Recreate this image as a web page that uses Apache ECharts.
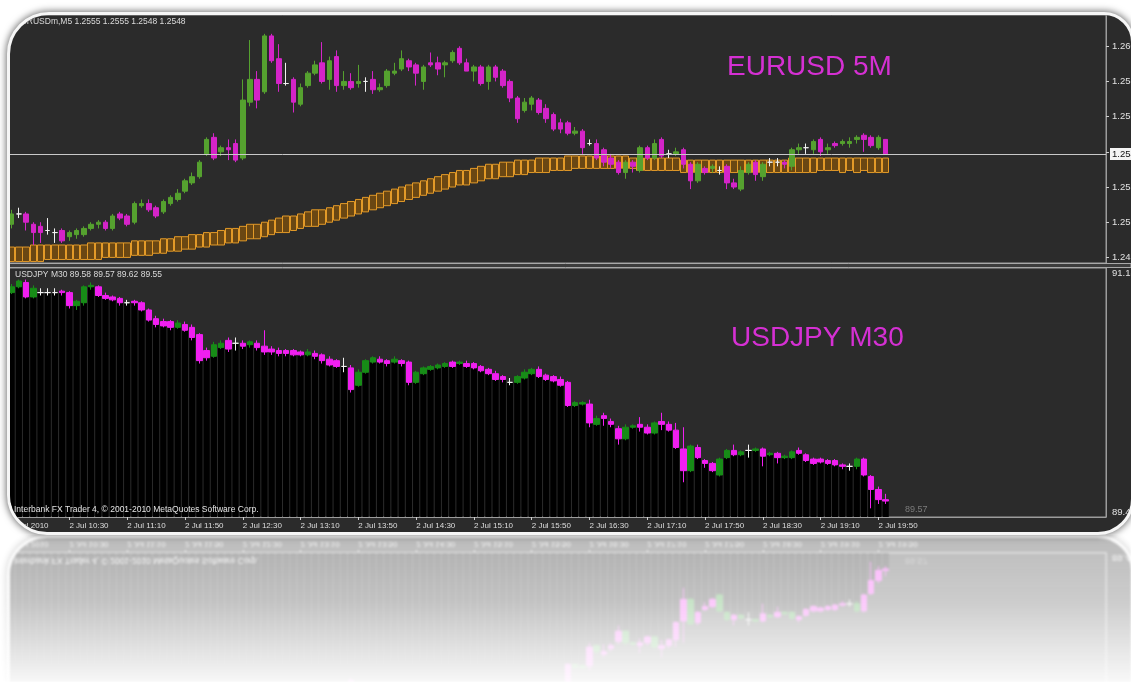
<!DOCTYPE html>
<html><head><meta charset="utf-8">
<script src="https://cdn.jsdelivr.net/npm/echarts@6/dist/echarts.min.js"></script>
<style>
html,body{margin:0;padding:0;background:#fff;width:1131px;height:682px;overflow:hidden;}
.frame{position:absolute;left:7px;top:12px;width:1121px;height:517px;border:3px solid #f6f6f6;border-radius:42px 30px 36px 40px;overflow:hidden;background:#2b2b2b;box-shadow:0 0 7px 1px rgba(0,0,0,0.55);}
.chart{position:absolute;left:-10px;top:-15px;width:1131px;height:545px;}
#refl{position:absolute;left:0;top:535px;width:1131px;height:147px;overflow:hidden;opacity:0.32;filter:blur(1px);
 -webkit-mask-image:linear-gradient(to bottom,rgba(0,0,0,1) 0%,rgba(0,0,0,0.75) 45%,rgba(0,0,0,0.1) 100%);
 mask-image:linear-gradient(to bottom,rgba(0,0,0,1) 0%,rgba(0,0,0,0.75) 45%,rgba(0,0,0,0.1) 100%);}
#flip{position:absolute;left:0;top:-535px;width:1131px;height:545px;transform:scaleY(-1);transform-origin:50% 535px;}
</style></head>
<body>
<div class="frame"><div id="main" class="chart"></div></div>
<div id="refl"><div id="flip"><div class="frame"><div id="mirror" class="chart"></div></div></div></div>
<script>
// ---------------- DATA ----------------
// EURUSD 5M candles: [open, close, low, high]
const eurCandles = [
[1.2514,1.2519,1.2512,1.2521],[1.2519,1.2519,1.2517,1.2522],[1.2519,1.2515,1.2511,1.2520],[1.2514,1.2510,1.2504,1.2515],
[1.2513,1.2510,1.2505,1.2515],[1.2511,1.2511,1.2509,1.2517],[1.2510,1.2510,1.2505,1.2512],[1.2511,1.2506,1.2505,1.2512],
[1.2508,1.2510,1.2506,1.2511],[1.2509,1.2511,1.2507,1.2512],[1.2509,1.2512,1.2508,1.2513],[1.2512,1.2514,1.2511,1.2515],
[1.2514,1.2515,1.2512,1.2516],[1.2515,1.2512,1.2511,1.2516],[1.2512,1.2518,1.2511,1.2519],[1.2519,1.2517,1.2516,1.2520],
[1.2518,1.2514,1.2513,1.2519],[1.2515,1.2524,1.2514,1.2525],[1.2523,1.2524,1.2522,1.2526],[1.2524,1.2521,1.2520,1.2526],
[1.2522,1.2518,1.2517,1.2523],[1.2520,1.2525,1.2519,1.2526],[1.2524,1.2527,1.2523,1.2528],[1.2526,1.2529,1.2525,1.2531],
[1.2530,1.2535,1.2529,1.2536],[1.2534,1.2537,1.2533,1.2539],[1.2537,1.2544,1.2536,1.2545],[1.2548,1.2555,1.2547,1.2556],
[1.2556,1.2546,1.2545,1.2558],[1.2549,1.2551,1.2547,1.2552],[1.2551,1.2550,1.2545,1.2555],[1.2553,1.2545,1.2544,1.2555],
[1.2546,1.2574,1.2545,1.2584],[1.2573,1.2584,1.2571,1.2603],[1.2584,1.2574,1.2570,1.2588],[1.2578,1.2605,1.2577,1.2606],
[1.2605,1.2593,1.2592,1.2606],[1.2594,1.2582,1.2578,1.2601],[1.2582,1.2582,1.2581,1.2592],[1.2584,1.2573,1.2568,1.2585],
[1.2572,1.2580,1.2571,1.2582],[1.2581,1.2587,1.2580,1.2588],[1.2587,1.2591,1.2586,1.2593],[1.2592,1.2583,1.2582,1.2602],
[1.2584,1.2593,1.2579,1.2595],[1.2595,1.2581,1.2578,1.2598],[1.2581,1.2583,1.2579,1.2588],[1.2583,1.2580,1.2579,1.2587],
[1.2582,1.2583,1.2580,1.2591],[1.2583,1.2583,1.2578,1.2585],[1.2584,1.2579,1.2577,1.2588],[1.2579,1.2580,1.2578,1.2582],
[1.2581,1.2588,1.2580,1.2589],[1.2587,1.2588,1.2586,1.2592],[1.2589,1.2594,1.2588,1.2598],[1.2593,1.2590,1.2588,1.2594],
[1.2591,1.2587,1.2581,1.2592],[1.2583,1.2590,1.2579,1.2591],[1.2592,1.2591,1.2590,1.2597],[1.2592,1.2589,1.2586,1.2595],
[1.2591,1.2592,1.2585,1.2593],[1.2593,1.2597,1.2592,1.2598],[1.2599,1.2592,1.2591,1.2600],[1.2592,1.2588,1.2588,1.2594],
[1.2588,1.2590,1.2583,1.2591],[1.2590,1.2582,1.2581,1.2591],[1.2583,1.2590,1.2579,1.2591],[1.2590,1.2585,1.2583,1.2591],
[1.2588,1.2581,1.2580,1.2589],[1.2583,1.2575,1.2573,1.2584],[1.2575,1.2565,1.2563,1.2576],[1.2569,1.2573,1.2568,1.2575],
[1.2572,1.2575,1.2569,1.2576],[1.2574,1.2568,1.2567,1.2575],[1.2570,1.2565,1.2563,1.2572],[1.2567,1.2560,1.2559,1.2568],
[1.2563,1.2560,1.2558,1.2565],[1.2563,1.2558,1.2557,1.2564],[1.2558,1.2559,1.2557,1.2561],[1.2559,1.2551,1.2548,1.2560],
[1.2553,1.2553,1.2552,1.2555],[1.2553,1.2546,1.2545,1.2555],[1.2550,1.2544,1.2542,1.2551],[1.2546,1.2543,1.2541,1.2548],
[1.2544,1.2539,1.2538,1.2545],[1.2539,1.2544,1.2536,1.2545],[1.2544,1.2542,1.2539,1.2545],[1.2540,1.2551,1.2539,1.2552],
[1.2551,1.2546,1.2545,1.2552],[1.2546,1.2553,1.2545,1.2555],[1.2555,1.2547,1.2546,1.2556],[1.2548,1.2548,1.2546,1.2550],
[1.2548,1.2549,1.2547,1.2551],[1.2550,1.2543,1.2541,1.2551],[1.2543,1.2535,1.2531,1.2544],[1.2535,1.2543,1.2534,1.2544],
[1.2541,1.2539,1.2538,1.2542],[1.2541,1.2542,1.2539,1.2543],[1.2540,1.2540,1.2538,1.2542],[1.2542,1.2534,1.2531,1.2543],
[1.2534,1.2532,1.2531,1.2536],[1.2531,1.2540,1.2530,1.2542],[1.2539,1.2543,1.2538,1.2544],[1.2544,1.2538,1.2535,1.2545],
[1.2537,1.2543,1.2535,1.2544],[1.2544,1.2544,1.2542,1.2546],[1.2544,1.2544,1.2542,1.2546],[1.2544,1.2543,1.2541,1.2545],
[1.2542,1.2550,1.2540,1.2551],[1.2550,1.2551,1.2548,1.2553],[1.2551,1.2551,1.2548,1.2553],[1.2550,1.2554,1.2548,1.2555],
[1.2555,1.2549,1.2547,1.2556],[1.2550,1.2551,1.2548,1.2553],[1.2553,1.2552,1.2551,1.2554],[1.2553,1.2554,1.2552,1.2555],
[1.2553,1.2554,1.2551,1.2556],[1.2555,1.2556,1.2553,1.2557],[1.2557,1.2555,1.2549,1.2558],[1.2556,1.2552,1.2551,1.2557],
[1.2551,1.2556,1.2550,1.2557],[1.2555,1.2548,1.2548,1.2555]
];
// Moving-average envelope (lower / upper edge)
const bandLow = [
1.2496,1.2496,1.2496,1.2496,1.2496,1.2497,1.2497,1.2497,1.2497,1.2497,
1.2497,1.2497,1.2497,1.2498,1.2498,1.2498,1.2498,1.2499,1.2499,1.2499,
1.2500,1.2500,1.2501,1.2501,1.2502,1.2502,1.2503,1.2503,1.2504,1.2504,
1.2505,1.2505,1.2506,1.2507,1.2507,1.2508,1.2509,1.2510,1.2510,1.2511,
1.2512,1.2513,1.2513,1.2514,1.2515,1.2516,1.2517,1.2518,1.2519,1.2520,
1.2521,1.2522,1.2523,1.2524,1.2525,1.2526,1.2527,1.2528,1.2529,1.2530,
1.2531,1.2532,1.2533,1.2533,1.2534,1.2535,1.2536,1.2536,1.2537,1.2537,
1.2538,1.2538,1.2539,1.2539,1.2539,1.2540,1.2540,1.2540,1.2541,1.2541,
1.2541,1.2541,1.2541,1.2541,1.2541,1.2541,1.2541,1.2540,1.2540,1.2540,
1.2540,1.2540,1.2540,1.2539,1.2539,1.2539,1.2539,1.2539,1.2539,1.2539,
1.2539,1.2539,1.2539,1.2539,1.2539,1.2539,1.2539,1.2539,1.2539,1.2539,
1.2539,1.2539,1.2540,1.2540,1.2540,1.2539,1.2540,1.2539,1.2540,1.2539,
1.2539,1.2539
];
const bandHigh = [
1.2503,1.2503,1.2503,1.2504,1.2504,1.2504,1.2504,1.2504,1.2504,1.2504,
1.2504,1.2505,1.2505,1.2505,1.2505,1.2505,1.2505,1.2506,1.2506,1.2506,
1.2506,1.2507,1.2507,1.2508,1.2508,1.2509,1.2509,1.2510,1.2510,1.2511,
1.2512,1.2512,1.2513,1.2514,1.2514,1.2515,1.2516,1.2517,1.2518,1.2518,
1.2519,1.2520,1.2521,1.2521,1.2522,1.2523,1.2524,1.2525,1.2526,1.2527,
1.2528,1.2529,1.2530,1.2531,1.2532,1.2533,1.2534,1.2535,1.2536,1.2537,
1.2538,1.2539,1.2540,1.2540,1.2541,1.2542,1.2543,1.2543,1.2544,1.2544,
1.2545,1.2545,1.2545,1.2546,1.2546,1.2546,1.2546,1.2547,1.2547,1.2547,
1.2547,1.2547,1.2547,1.2547,1.2547,1.2547,1.2546,1.2546,1.2546,1.2546,
1.2546,1.2546,1.2546,1.2545,1.2545,1.2545,1.2545,1.2545,1.2545,1.2545,
1.2545,1.2545,1.2545,1.2545,1.2545,1.2545,1.2545,1.2545,1.2546,1.2546,
1.2546,1.2546,1.2546,1.2546,1.2546,1.2546,1.2546,1.2546,1.2546,1.2546,
1.2546,1.2546
];
// USDJPY M30 candles: [open, close, low, high]
const jpyCandles = [
[91.01,91.05,91.00,91.07],[91.05,91.09,91.04,91.10],[91.08,90.98,90.97,91.10],[90.98,91.04,90.97,91.06],
[91.01,91.01,90.99,91.04],[91.01,91.01,90.99,91.04],[91.01,91.01,90.99,91.04],[91.02,91.01,90.99,91.03],
[91.01,90.92,90.90,91.02],[90.92,90.95,90.89,90.96],[90.94,91.05,90.92,91.06],[91.05,91.06,91.03,91.08],
[91.05,90.99,90.98,91.06],[90.99,90.97,90.96,91.01],[90.98,90.96,90.95,90.99],[90.97,90.94,90.92,90.98],
[90.94,90.94,90.92,90.96],[90.95,90.94,90.92,90.96],[90.94,90.89,90.88,90.95],[90.89,90.82,90.81,90.90],
[90.83,90.79,90.77,90.85],[90.81,90.78,90.77,90.83],[90.81,90.77,90.75,90.82],[90.77,90.80,90.76,90.82],
[90.79,90.75,90.74,90.81],[90.77,90.70,90.68,90.79],[90.72,90.54,90.52,90.73],[90.61,90.56,90.54,90.63],
[90.57,90.65,90.56,90.67],[90.63,90.66,90.62,90.68],[90.68,90.62,90.60,90.70],[90.66,90.66,90.61,90.70],
[90.66,90.64,90.62,90.68],[90.65,90.67,90.63,90.68],[90.66,90.63,90.61,90.68],[90.64,90.60,90.58,90.75],
[90.62,90.60,90.58,90.64],[90.61,90.59,90.57,90.63],[90.61,90.59,90.57,90.62],[90.61,90.58,90.57,90.62],
[90.60,90.58,90.57,90.61],[90.58,90.60,90.57,90.62],[90.59,90.57,90.55,90.61],[90.58,90.54,90.52,90.59],
[90.55,90.51,90.50,90.57],[90.54,90.50,90.49,90.55],[90.50,90.50,90.46,90.56],[90.49,90.34,90.32,90.51],
[90.37,90.46,90.36,90.48],[90.46,90.54,90.45,90.55],[90.53,90.56,90.52,90.57],[90.55,90.53,90.52,90.57],
[90.54,90.52,90.50,90.55],[90.53,90.55,90.52,90.57],[90.54,90.52,90.50,90.55],[90.53,90.39,90.37,90.54],
[90.39,90.46,90.38,90.47],[90.45,90.49,90.44,90.50],[90.48,90.50,90.47,90.51],[90.49,90.51,90.48,90.52],
[90.50,90.52,90.49,90.53],[90.53,90.50,90.49,90.54],[90.52,90.53,90.51,90.54],[90.52,90.50,90.49,90.54],
[90.52,90.49,90.48,90.53],[90.50,90.47,90.46,90.51],[90.48,90.45,90.44,90.49],[90.45,90.41,90.40,90.47],
[90.43,90.41,90.39,90.44],[90.39,90.39,90.37,90.42],[90.39,90.43,90.38,90.44],[90.42,90.46,90.41,90.48],
[90.45,90.48,90.44,90.49],[90.48,90.43,90.42,90.50],[90.44,90.41,90.40,90.45],[90.43,90.40,90.39,90.44],
[90.41,90.37,90.36,90.43],[90.39,90.23,90.22,90.40],[90.23,90.25,90.22,90.26],[90.24,90.25,90.23,90.26],
[90.24,90.11,90.08,90.27],[90.10,90.14,90.09,90.16],[90.16,90.14,90.09,90.18],[90.12,90.10,90.08,90.14],
[90.07,90.00,89.96,90.09],[90.00,90.08,89.99,90.10],[90.08,90.09,90.07,90.10],[90.10,90.08,90.05,90.15],
[90.08,90.04,90.03,90.10],[90.04,90.11,90.03,90.12],[90.12,90.10,90.06,90.18],[90.10,90.06,90.05,90.12],
[90.06,89.94,89.93,90.11],[89.93,89.78,89.70,90.08],[89.78,89.95,89.77,89.96],[89.94,89.87,89.86,89.96],
[89.85,89.83,89.80,89.86],[89.83,89.78,89.77,89.84],[89.75,89.86,89.74,89.87],[89.87,89.92,89.86,89.93],
[89.92,89.89,89.88,89.96],[89.89,89.91,89.88,89.92],[89.92,89.92,89.87,89.96],[89.92,89.93,89.91,89.94],
[89.93,89.88,89.81,89.94],[89.89,89.90,89.88,89.91],[89.90,89.87,89.83,89.91],[89.87,89.88,89.86,89.89],
[89.87,89.91,89.86,89.92],[89.92,89.90,89.89,89.94],[89.89,89.85,89.84,89.90],[89.86,89.83,89.82,89.87],
[89.86,89.84,89.83,89.87],[89.85,89.83,89.82,89.86],[89.85,89.82,89.81,89.86],[89.82,89.81,89.79,89.83],
[89.81,89.81,89.78,89.83],[89.81,89.86,89.79,89.87],[89.86,89.75,89.74,89.87],[89.74,89.65,89.52,89.75],
[89.65,89.58,89.55,89.67],[89.58,89.57,89.55,89.62]
];
const xTickLabels = ['2 Jul 2010','2 Jul 10:30','2 Jul 11:10','2 Jul 11:50','2 Jul 12:30','2 Jul 13:10','2 Jul 13:50','2 Jul 14:30',
 '2 Jul 15:10','2 Jul 15:50','2 Jul 16:30','2 Jul 17:10','2 Jul 17:50','2 Jul 18:30','2 Jul 19:10','2 Jul 19:50'];
const eurTicks = [1.2498,1.2515,1.2532,1.2549,1.2566,1.2583,1.2600];
const jpyTicks = [89.46,91.18];
const eurBid = 1.2548;
const eurTitle = 'EURUSDm,M5 1.2555 1.2555 1.2548 1.2548';
const jpyTitle = 'USDJPY M30 89.58 89.57 89.62 89.55';
const jpyLastLabel = '89.57';
const copyright = 'Interbank FX Trader 4, \u00A9 2001-2010 MetaQuotes Software Corp.';
const bigTop = 'EURUSD 5M';
const bigBottom = 'USDJPY M30';

// ---------------- CHART ----------------
const SLOTS = 152, TICK_EVERY = 8;
const cats = Array.from({length: SLOTS}, (_, i) => String(i));
const bandData = bandLow.map((lo, i) => [lo, bandHigh[i], lo, bandHigh[i]]);
const blackBars = jpyCandles.map(c => Math.min(c[0], c[1]));
const tickShow = (idx) => idx % TICK_EVERY === 0 && idx / TICK_EVERY < xTickLabels.length;
const FONT = '"Liberation Sans", Arial, sans-serif';
const frameLine = '#9c9c9c';

function txt(x, y, text, fill, size, align) {
  return {type: 'text', silent: true, z: 50,
    style: {x: x, y: y, text: text, fill: fill, font: size + 'px ' + FONT,
      textAlign: align || 'left', textVerticalAlign: 'middle', align: align || 'left', verticalAlign: 'middle'}};
}

function buildOption() {
  return {
    animation: false,
    backgroundColor: 'transparent',
    grid: [
      {left: 8, top: 15, width: 1098, height: 248, show: true, borderColor: frameLine, borderWidth: 1, backgroundColor: 'transparent',
        containLabel: false, outerBoundsMode: 'none'},
      {left: 8, top: 268, width: 1098, height: 249, show: true, borderColor: frameLine, borderWidth: 1, backgroundColor: 'transparent',
        containLabel: false, outerBoundsMode: 'none'}
    ],
    xAxis: [
      {type: 'category', gridIndex: 0, data: cats, boundaryGap: true,
        axisLine: {show: false}, axisTick: {show: false}, axisLabel: {show: false}, splitLine: {show: false}},
      {type: 'category', gridIndex: 1, data: cats, boundaryGap: true,
        axisLine: {show: true, lineStyle: {color: frameLine}},
        axisTick: {show: true, alignWithLabel: true, interval: tickShow, length: 3, lineStyle: {color: '#cfcfcf'}},
        axisLabel: {interval: tickShow, align: 'left', margin: 5, color: '#dedede', fontSize: 8, fontFamily: FONT, hideOverlap: false,
          formatter: (v, i) => (i % TICK_EVERY === 0 && xTickLabels[i / TICK_EVERY]) ? xTickLabels[i / TICK_EVERY] : ''},
        splitLine: {show: false}}
    ],
    yAxis: [
      {type: 'value', gridIndex: 0, position: 'right', min: 1.24953, max: 1.26151, scale: true,
        splitLine: {show: false},
        axisLine: {show: true, lineStyle: {color: frameLine}},
        axisTick: {show: true, customValues: eurTicks, length: 3, lineStyle: {color: '#cfcfcf'}},
        axisLabel: {customValues: eurTicks, formatter: v => v.toFixed(4), color: '#e2e2e2', fontSize: 9.5, fontFamily: FONT, margin: 6}},
      {type: 'value', gridIndex: 1, position: 'right', min: 89.46, max: 91.18, scale: true,
        splitLine: {show: false},
        axisLine: {show: true, lineStyle: {color: frameLine}},
        axisTick: {show: false},
        axisLabel: {customValues: jpyTicks, formatter: v => v.toFixed(2), color: '#e2e2e2', fontSize: 9.5, fontFamily: FONT, margin: 6,
          verticalAlignMinLabel: 'bottom', verticalAlignMaxLabel: 'top'}}
    ],
    series: [
      {type: 'candlestick', name: 'MA band', xAxisIndex: 0, yAxisIndex: 0, data: bandData, barWidth: 7, silent: true, z: 2,
        itemStyle: {color: '#6a4713', color0: '#6a4713', borderColor: '#e39a28', borderColor0: '#e39a28', borderColorDoji: '#e39a28', borderWidth: 1}},
      {type: 'line', name: 'Bid', xAxisIndex: 0, yAxisIndex: 0, data: [], silent: true, z: 20,
        markLine: {symbol: 'none', silent: true, animation: false, precision: 4, z: 20,
          lineStyle: {color: '#c9c9c9', width: 1, type: 'solid'},
          label: {position: 'end', distance: 4, formatter: () => eurBid.toFixed(4), backgroundColor: '#f4f4f4', color: '#111',
            fontSize: 9.5, fontFamily: FONT, padding: [1, 2, 1, 2]},
          data: [{yAxis: eurBid}]}},
      {type: 'candlestick', name: 'EURUSD', xAxisIndex: 0, yAxisIndex: 0, data: eurCandles, barWidth: 5, silent: true, z: 3,
        itemStyle: {color: '#55a12f', color0: '#d424c8', borderColor: '#55a12f', borderColor0: '#d424c8', borderColorDoji: '#f2f2f2', borderWidth: 1}},
      {type: 'bar', name: 'JPY bars', xAxisIndex: 1, yAxisIndex: 1, data: blackBars, barWidth: '86%', silent: true, clip: true, z: 1,
        itemStyle: {color: '#000000'}},
      {type: 'candlestick', name: 'USDJPY', xAxisIndex: 1, yAxisIndex: 1, data: jpyCandles, barWidth: 6, silent: true, z: 3,
        itemStyle: {color: '#178c17', color0: '#f01ff0', borderColor: '#178c17', borderColor0: '#f01ff0', borderColorDoji: '#f2f2f2', borderWidth: 1}}
    ],
    graphic: [
      {type: 'rect', silent: true, z: 40, shape: {x: 0, y: 263.5, width: 1131, height: 4}, style: {fill: '#3c3c3c', stroke: '#a8a8a8', lineWidth: 1}},
      txt(15, 22, eurTitle, '#dadada', 8.5),
      txt(15, 275, jpyTitle, '#dadada', 8.5),
      txt(14, 510, copyright, '#e4e4e4', 8.5),
      txt(905, 510, jpyLastLabel, '#7c7c7c', 9),
      txt(727, 67, bigTop, '#d530d3', 28),
      txt(731, 338, bigBottom, '#d530d3', 28)
    ]
  };
}

const main = echarts.init(document.getElementById('main'));
main.setOption(buildOption());
const mirror = echarts.init(document.getElementById('mirror'));
mirror.setOption(buildOption());
</script>
</body></html>
